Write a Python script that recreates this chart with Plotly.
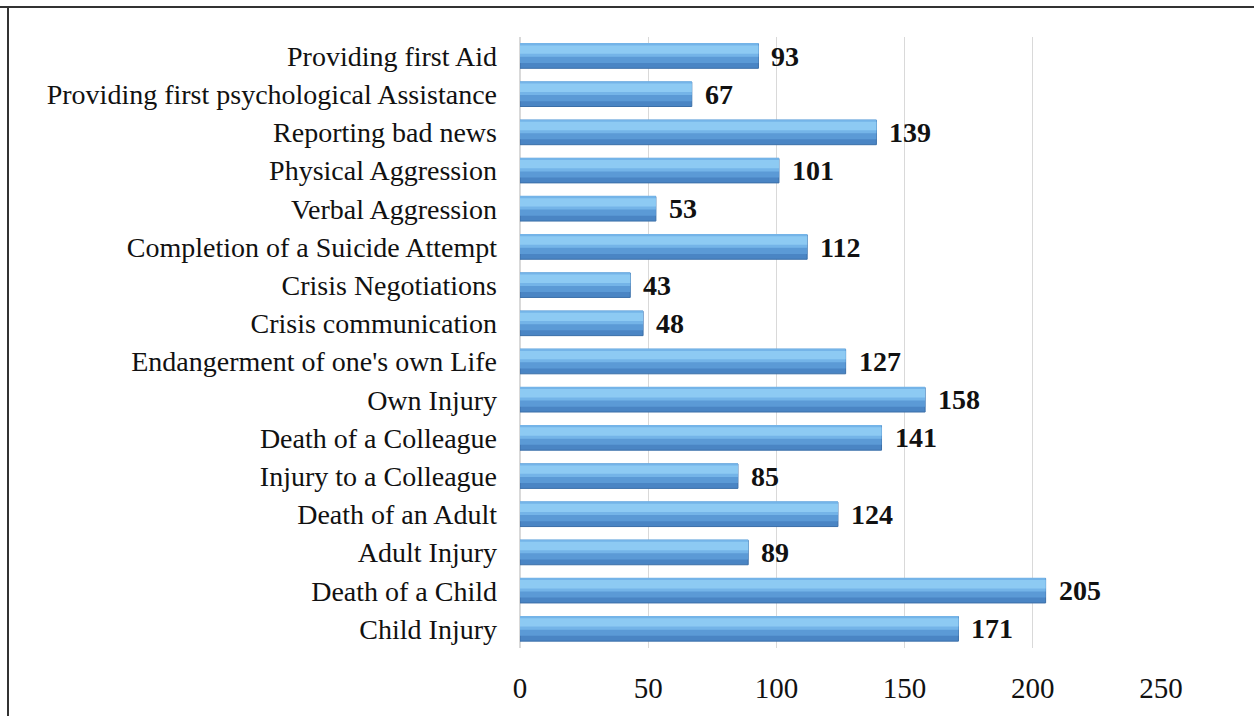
import plotly.graph_objects as go

# Incident categories (bottom to top) and their counts
categories = [
    "Child Injury",
    "Death of a Child",
    "Adult Injury",
    "Death of an Adult",
    "Injury to a Colleague",
    "Death of a Colleague",
    "Own Injury",
    "Endangerment of one's own Life",
    "Crisis communication",
    "Crisis Negotiations",
    "Completion of a Suicide Attempt",
    "Verbal Aggression",
    "Physical Aggression",
    "Reporting bad news",
    "Providing first psychological Assistance",
    "Providing first Aid",
]
counts = [171, 205, 89, 124, 85, 141, 158, 127, 48, 43, 112, 53, 101, 139, 67, 93]
x_ticks = [0, 50, 100, 150, 200, 250]

SERIF = "Liberation Serif, Times New Roman, serif"

fig = go.Figure()

# Bevelled bar look: a dark base bar with lighter strips layered on its upper half
bar_layers = [
    # (width, offset, fill, outline)
    (0.64, -0.32, "#4A85C4", "#3B6FA8"),
    (0.50, -0.18, "#5B9AD6", "#5B9AD6"),
    (0.36, -0.02, "#74B4E8", "#74B4E8"),
    (0.22, 0.06, "#8DCAF3", "#8DCAF3"),
]
for w, off, fill, edge in bar_layers:
    fig.add_trace(go.Bar(
        y=categories, x=counts, orientation="h",
        width=w, offset=off,
        marker=dict(color=fill, line=dict(color=edge, width=1 if edge != fill else 0)),
        hoverinfo="skip", showlegend=False,
    ))

# Value labels to the right of each bar
for cat, v in zip(categories, counts):
    fig.add_annotation(
        x=v, y=cat, text=f"<b>{v}</b>", showarrow=False,
        xanchor="left", xshift=11,
        font=dict(family=SERIF, size=28, color="#111111"),
    )

# Outer frame lines
fig.add_shape(type="line", xref="paper", yref="paper",
              x0=-520 / 641, x1=1.2, y0=(716 - 7 - 66) / 613, y1=(716 - 7 - 66) / 613,
              line=dict(color="#333333", width=2))
fig.add_shape(type="line", xref="paper", yref="paper",
              x0=-512 / 641, x1=-512 / 641, y0=-0.2, y1=(716 - 7 - 66) / 613,
              line=dict(color="#333333", width=2))

fig.update_layout(
    width=1254, height=716,
    margin=dict(l=520, r=93, t=37, b=66),
    paper_bgcolor="white", plot_bgcolor="white",
    barmode="overlay",
    font=dict(family=SERIF, size=28, color="#111111"),
    xaxis=dict(
        range=[0, 250], tickvals=x_ticks, ticktext=[str(t) for t in x_ticks],
        showgrid=True, gridcolor="#D9D9D9", gridwidth=1,
        zeroline=True, zerolinecolor="#D9D9D9",
        showline=False, ticks="", ticklabelstandoff=20,
        tickfont=dict(family=SERIF, size=29, color="#111111"),
    ),
    yaxis=dict(
        type="category", categoryorder="array", categoryarray=categories,
        showgrid=False, showline=False, ticks="", ticklabelstandoff=22,
        tickfont=dict(family=SERIF, size=28, color="#111111"),
    ),
)

fig.write_html("out.html")
